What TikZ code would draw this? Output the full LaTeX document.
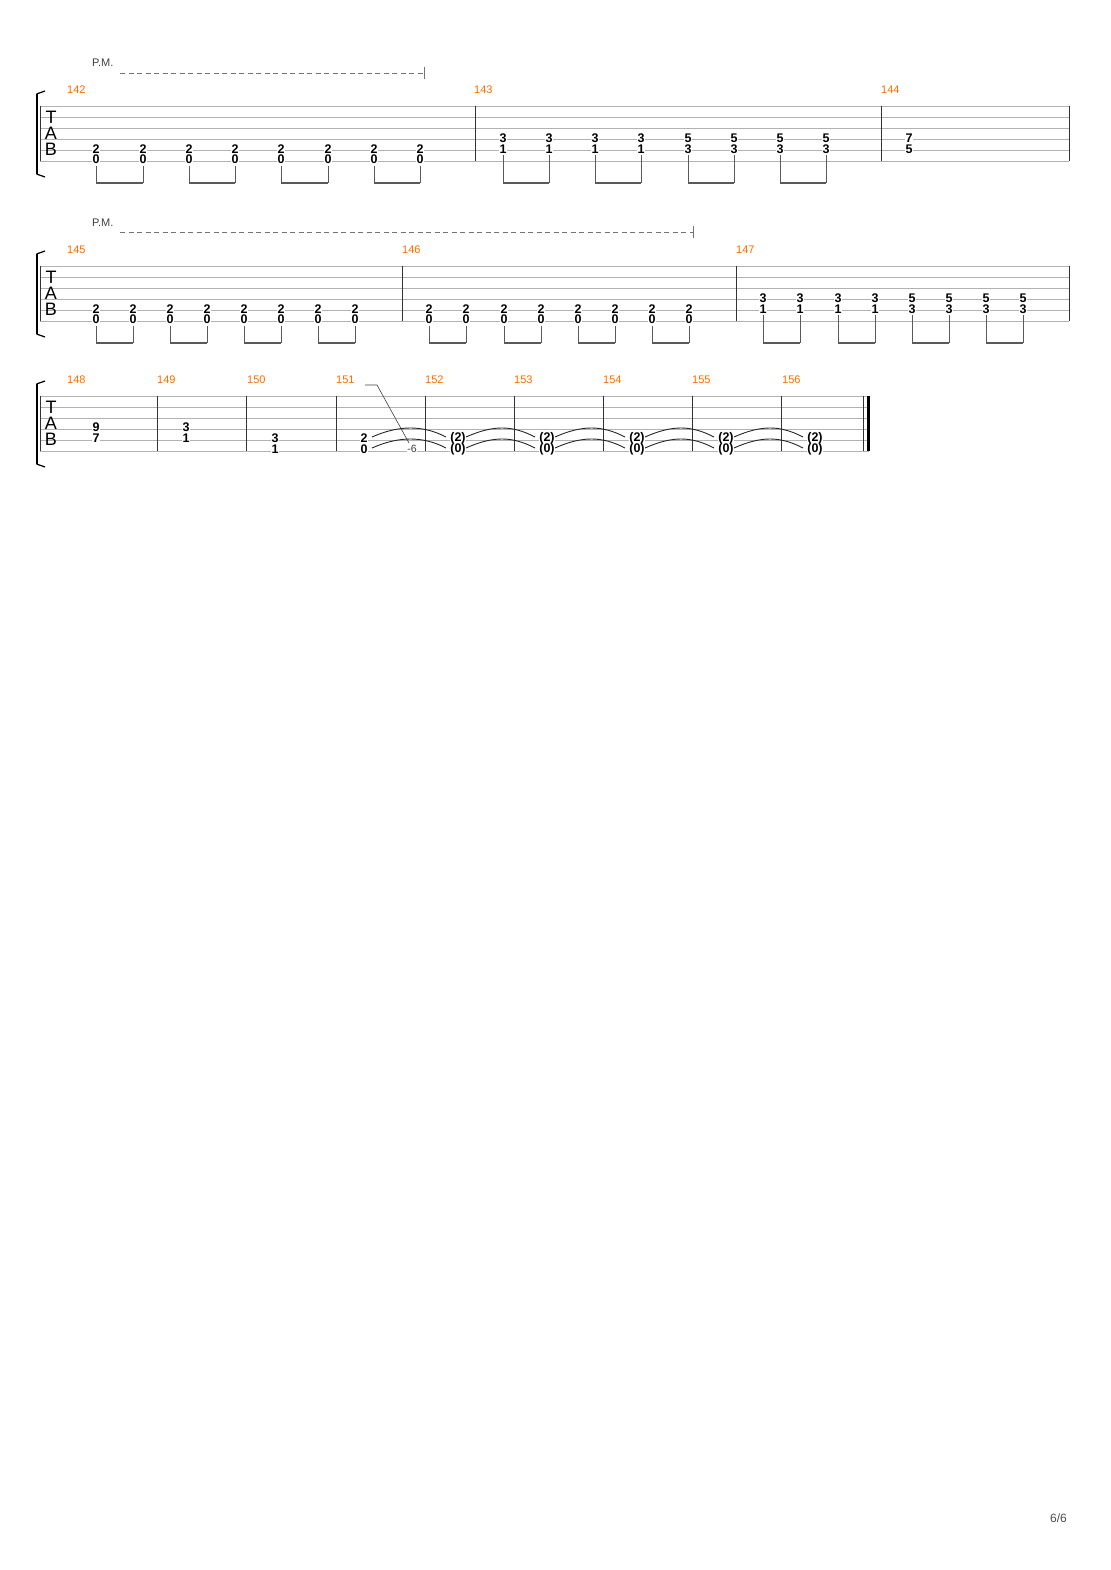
\documentclass[tikz,border=0pt]{standalone}
\usepackage{fontspec}
\setmainfont{Liberation Sans}
\begin{document}
\begin{tikzpicture}[x=1pt,y=-1pt,
  staff/.style={draw=black!30,line width=0.7pt},
  bar/.style={draw=black!80,line width=0.8pt},
  num/.style={font=\fontsize{11}{11}\selectfont\color{orange!85!red},anchor=west,inner sep=0},
  fret/.style={font=\bfseries\fontsize{12.5}{12.5}\selectfont,fill=white,inner sep=0.3pt},
  beam/.style={draw=black!65,line width=2.6pt},
  stem/.style={draw=black!65,line width=0.8pt},
  tab/.style={font=\fontsize{18}{18}\selectfont,inner sep=0},
  pm/.style={font=\fontsize{11}{11}\selectfont\color{black!75},anchor=west,inner sep=0},
  pmline/.style={draw=black!55,dashed,dash pattern=on 5pt off 3.5pt,line width=0.8pt},
  tie/.style={draw=black!85,line width=0.9pt}]
\useasboundingbox (0,0) rectangle (1110,1570);
\newcommand{\staffsys}[2]{%
  \foreach \k in {0,...,5} \draw[staff] (40,#1+11*\k) -- (#2,#1+11*\k);
  \draw[bar] (40,#1) -- (40,#1+55);
  \draw[line width=2pt] (37,#1-12) -- (37,#1+68);
  \draw[line width=1.2pt] (36.5,#1-12) -- (45,#1-15);
  \draw[line width=1.2pt] (36.5,#1+68) -- (45,#1+71);
  \node[tab] at (51,#1+11) {T};
  \node[tab] at (51,#1+27) {A};
  \node[tab] at (51,#1+43) {B};
}
\newcommand{\ch}[5]{%
  \node[fret] at (#1,#2+1) {#4}; \node[fret] at (#1,#3+1) {#5};}
\newcommand{\pair}[4]{%
  \draw[stem] (#1,#3) -- (#1,#4); \draw[stem] (#2,#3) -- (#2,#4);
  \draw[beam] (#1-0.4,#4) -- (#2+0.4,#4);}
% ===== system 1 =====
\staffsys{106}{1069}
\foreach \x in {475,881,1069} \draw[bar] (\x,106) -- (\x,161);
\node[num] at (67,90) {142}; \node[num] at (474,90) {143}; \node[num] at (881,90) {144};
\node[pm] (pm1) at (92,63) {P.M.};
\draw[pmline] (120,73) -- (424,73); \draw[black!55,line width=0.8pt] (424,67) -- (424,79);
\foreach \x in {96,143,189,235,281,328,374,420} \ch{\x}{148}{158}{2}{0};
\foreach \x in {503,549,595,641} \ch{\x}{137}{148}{3}{1};
\foreach \x in {688,734,780,826} \ch{\x}{137}{148}{5}{3};
\ch{909}{137}{148}{7}{5}
\foreach \a/\b in {96/143,189/235,281/328,374/420} \pair{\a}{\b}{166}{183};
\foreach \a/\b in {503/549,595/641,688/734,780/826} \pair{\a}{\b}{155}{183};
% ===== system 2 =====
\staffsys{266}{1069}
\foreach \x in {402,736,1069} \draw[bar] (\x,266) -- (\x,321);
\node[num] at (67,250) {145}; \node[num] at (402,250) {146}; \node[num] at (736,250) {147};
\node[pm] (pm2) at (92,223) {P.M.};
\draw[pmline] (120,232) -- (693,232); \draw[black!55,line width=0.8pt] (693,226) -- (693,238);
\foreach \x in {96,133,170,207,244,281,318,355,429,466,504,541,578,615,652,689} \ch{\x}{308}{318}{2}{0};
\foreach \x in {763,800,838,875} \ch{\x}{297}{308}{3}{1};
\foreach \x in {912,949,986,1023} \ch{\x}{297}{308}{5}{3};
\foreach \a/\b in {96/133,170/207,244/281,318/355,429/466,504/541,578/615,652/689} \pair{\a}{\b}{326}{343};
\foreach \a/\b in {763/800,838/875,912/949,986/1023} \pair{\a}{\b}{315}{343};
% ===== system 3 =====
\staffsys{396}{869}
\foreach \x in {157,246,336,425,514,603,692,781,863} \draw[bar] (\x,396) -- (\x,451);
\draw[line width=3pt] (868,396) -- (868,451);
\foreach \x/\m in {67/148,157/149,247/150,336/151,425/152,514/153,603/154,692/155,782/156} \node[num] at (\x,380) {\m};
\ch{96}{426}{437}{9}{7}
\ch{186}{426}{437}{3}{1}
\ch{275}{437}{448}{3}{1}
\foreach \a/\b in {364/458,458/547,547/637,637/726,726/815} {
  \draw[tie] (\a+8,437) .. controls (\a+35,425) and (\b-35,425) .. (\b-12,437);
  \draw[tie] (\a+8,448) .. controls (\a+35,436) and (\b-35,436) .. (\b-12,448);
}
\ch{364}{437}{448}{2}{0}
\foreach \x in {458,547,637,726,815} \ch{\x}{437}{448}{(2)}{(0)};
\draw[black!75,line width=0.6pt] (365,385) -- (377,385) -- (409,443);
\node[font=\fontsize{10.5}{10.5}\selectfont\color{black!75},fill=white,inner sep=0.5pt] (wb) at (412,449) {-6};
\node[font=\fontsize{12}{12}\selectfont\color{black!70},anchor=east,inner sep=0] (pg) at (1067,1518) {6/6};
\end{tikzpicture}
\end{document}
